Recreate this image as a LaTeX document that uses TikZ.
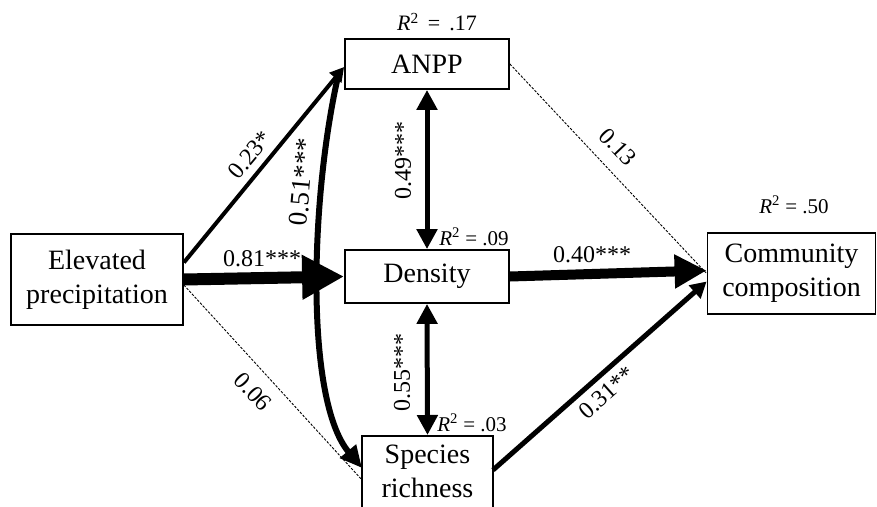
\documentclass[tikz,border=0pt]{standalone}
\usepackage{fontspec}
\setmainfont{Liberation Serif}
\usetikzlibrary{arrows.meta,calc}
\begin{document}
\begin{tikzpicture}[x=1pt,y=-1pt,
  box/.style={draw,line width=1.8pt,inner sep=0pt,align=center,
    font=\fontsize{28}{34}\selectfont},
  lab/.style={font=\fontsize{24}{28}\selectfont,inner sep=0pt},
  rsq/.style={font=\fontsize{21}{24}\selectfont,inner sep=0pt},
  dashlink/.style={line width=0.9pt,dash pattern=on 2.5pt off 1.5pt},
]
\useasboundingbox (0,0) rectangle (877,506);
% boxes
\node[box,minimum width=172pt,minimum height=91pt] (elev) at (97,279.5) {Elevated\\precipitation};
\node[box,minimum width=164pt,minimum height=50pt] (anpp) at (427,64) {ANPP};
\node[box,minimum width=164pt,minimum height=53pt] (dens) at (427,276.5) {Density};
\node[box,minimum width=131pt,minimum height=82pt,text depth=12pt,anchor=north] (rich) at (427.5,435) {Species\\richness};
\node[box,minimum width=168pt,minimum height=81pt] (comm) at (791.5,273.5) {Community\\composition};
% R squared
\node[rsq,font=\fontsize{22}{24}\selectfont] (r1) at (437,22) {\textit{R}\textsuperscript{2}\, = \,.17};
\node[rsq] (r2) at (474,237) {\textit{R}\textsuperscript{2} = .09};
\node[rsq] (r3) at (472,423) {\textit{R}\textsuperscript{2} = .03};
\node[rsq] (r4) at (794,205) {\textit{R}\textsuperscript{2} = .50};
% dashed links
\draw[dashlink] ([yshift=-5.5pt]elev.east) -- ([yshift=-2pt]rich.west);
\draw[dashlink] (anpp.east) -- (comm.west);
% solid links
\draw[line width=4pt,-{Triangle[length=14pt,width=15pt]}] ([yshift=17pt]elev.east) -- ([yshift=-3pt]anpp.west);
\draw[line width=12pt,-{Triangle[length=42pt,width=42pt]}] (elev.east) -- (dens.west);
\draw[line width=6pt,-{Triangle[length=22pt,width=20pt]}] ([xshift=-6pt,yshift=14pt]anpp.south west) .. controls (310,200) and (305,400) .. (362,468);
\draw[line width=5pt,{Triangle[length=20pt,width=20pt]}-{Triangle[length=20pt,width=20pt]}] (anpp.south) -- (dens.north);
\draw[line width=5pt,{Triangle[length=20pt,width=20pt]}-{Triangle[length=20pt,width=20pt]}] (dens.south) -- (rich.north);
\draw[line width=10pt,-{Triangle[length=32pt,width=32pt]}] (dens.east) -- ([yshift=3pt]comm.west);
\draw[line width=5pt,-{Triangle[length=16pt,width=17pt]}] (493,470) -- ([yshift=-8pt]comm.west);
% path labels
\node[lab,rotate=50] (l23) at (250,155) {0.23*};
\node[lab,rotate=85,font=\fontsize{27}{30}\selectfont] (l51) at (302,182) {0.51***};
\node[lab] (l81) at (262,259) {0.81***};
\node[lab,rotate=90] (l49) at (403,160) {0.49***};
\node[lab,rotate=90] (l55) at (402,372) {0.55***};
\node[lab,rotate=-47] (l06) at (253,392) {0.06};
\node[lab,rotate=-46.5] (l13) at (618,147) {0.13};
\node[lab] (l40) at (592,255) {0.40***};
\node[lab,rotate=41.6] (l31) at (607,393) {0.31**};
\end{tikzpicture}
\end{document}
